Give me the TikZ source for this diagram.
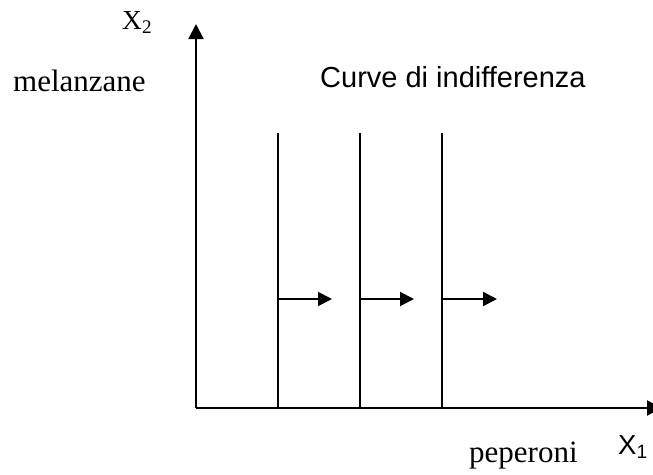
\documentclass[tikz,border=0pt]{standalone}
\usepackage{fontspec}
\setmainfont{Liberation Serif}
\setsansfont{Liberation Sans}
\usetikzlibrary{arrows.meta}
\begin{document}
\begin{tikzpicture}[x=1pt,y=-1pt,
  axisline/.style={line width=2pt,-{Triangle[length=15pt,width=15pt]}},
  indcurve/.style={line width=1.6pt},
  movearrow/.style={line width=2pt,-{Triangle[length=14pt,width=14pt]}},
  seriflbl/.style={inner sep=0pt,anchor=base west,font=\fontsize{31}{36}\selectfont},
  seriflblsm/.style={inner sep=0pt,anchor=base west,font=\fontsize{27.5}{32}\selectfont},
  sanslbl/.style={inner sep=0pt,anchor=base west,font=\sffamily\fontsize{29}{34}\selectfont},
  sanslblsm/.style={inner sep=0pt,anchor=base west,font=\sffamily\fontsize{27.5}{32}\selectfont}]
\useasboundingbox (0,0) rectangle (653,474);
\clip (0,0) rectangle (653,474);
% axes
\coordinate (O) at (196,408);
\coordinate (ytop) at (196,24);
\coordinate (xend) at (662,408);
\draw[axisline] (O) -- (ytop);
\draw[axisline] (O) -- (xend);
% indifference curves (vertical lines)
\coordinate (c1t) at (278,133); \coordinate (c1b) at (278,408);
\coordinate (c2t) at (360,133); \coordinate (c2b) at (360,408);
\coordinate (c3t) at (442,133); \coordinate (c3b) at (442,408);
\draw[indcurve] (c1t) -- (c1b);
\draw[indcurve] (c2t) -- (c2b);
\draw[indcurve] (c3t) -- (c3b);
% arrows
\coordinate (a1s) at (278,299); \coordinate (a1e) at (332,299);
\coordinate (a2s) at (360,299); \coordinate (a2e) at (414,299);
\coordinate (a3s) at (442,299); \coordinate (a3e) at (497,299);
\draw[movearrow] (a1s) -- (a1e);
\draw[movearrow] (a2s) -- (a2e);
\draw[movearrow] (a3s) -- (a3e);
% labels
\node[seriflblsm] (x2) at (122,29) {X\textsubscript{2}};
\node[seriflbl] (mel) at (13,91) {melanzane};
\node[sanslbl] (title) at (320,87) {Curve di indifferenza};
\node[seriflbl] (pep) at (469,462) {peperoni};
\node[sanslblsm] (x1) at (618,454) {X\textsubscript{1}};
\end{tikzpicture}
\end{document}
